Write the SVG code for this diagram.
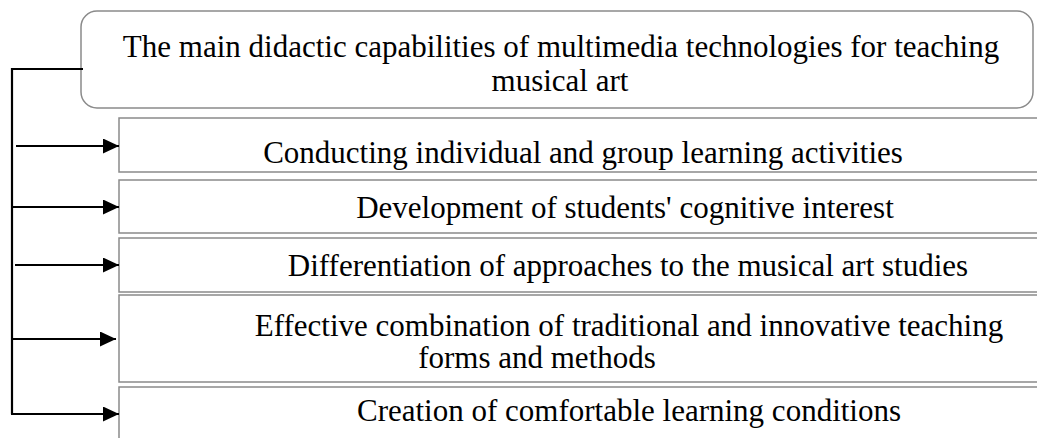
<svg xmlns="http://www.w3.org/2000/svg" width="1037" height="438" viewBox="0 0 1037 438">
<style>
.t{font-family:'Liberation Serif','Times New Roman',Times,serif;font-size:31px;fill:#000;text-anchor:middle}
.box{fill:#fff;stroke:#8a8a8a;stroke-width:1.5}
.conn{fill:none;stroke:#000;stroke-width:2.2}
</style>
<defs>
<marker id="arr" markerUnits="userSpaceOnUse" markerWidth="16" markerHeight="15" refX="16" refY="7.5" orient="auto">
<path d="M0,0 L16,7.5 L0,15 z" fill="#000"/>
</marker>
</defs>
<rect width="1037" height="438" fill="#fff"/>
<g id="title">
<rect class="box" x="81" y="11" width="952" height="97" rx="16" ry="16"/>
<text class="t" font-family="Liberation Serif, serif" x="561" y="57">The main didactic capabilities of multimedia technologies for teaching</text>
<text class="t" font-family="Liberation Serif, serif" x="560" y="91">musical art</text>
</g>
<g id="n1">
<rect class="box" x="119" y="118" width="930" height="54"/>
<text class="t" font-family="Liberation Serif, serif" x="583" y="163">Conducting individual and group learning activities</text>
</g>
<g id="n2">
<rect class="box" x="119" y="180" width="930" height="53"/>
<text class="t" font-family="Liberation Serif, serif" x="625" y="218">Development of students' cognitive interest</text>
</g>
<g id="n3">
<rect class="box" x="119" y="238" width="930" height="54"/>
<text class="t" font-family="Liberation Serif, serif" x="628" y="276">Differentiation of approaches to the musical art studies</text>
</g>
<g id="n4">
<rect class="box" x="119" y="295" width="930" height="87"/>
<text class="t" font-family="Liberation Serif, serif" x="629" y="336">Effective combination of traditional and innovative teaching</text>
<text class="t" font-family="Liberation Serif, serif" x="537" y="368">forms and methods</text>
</g>
<g id="n5">
<rect class="box" x="119" y="387" width="930" height="60"/>
<text class="t" font-family="Liberation Serif, serif" x="629" y="421">Creation of comfortable learning conditions</text>
</g>
<g id="connectors">
<polyline class="conn" points="83,69 12,69 12,414"/>
<line class="conn" x1="16" y1="146" x2="119" y2="146" marker-end="url(#arr)"/>
<line class="conn" x1="12" y1="207" x2="119" y2="207" marker-end="url(#arr)"/>
<line class="conn" x1="15" y1="265" x2="119" y2="265" marker-end="url(#arr)"/>
<line class="conn" x1="12" y1="339" x2="116" y2="339" marker-end="url(#arr)"/>
<line class="conn" x1="11" y1="414" x2="119" y2="414" marker-end="url(#arr)"/>
</g>
</svg>
